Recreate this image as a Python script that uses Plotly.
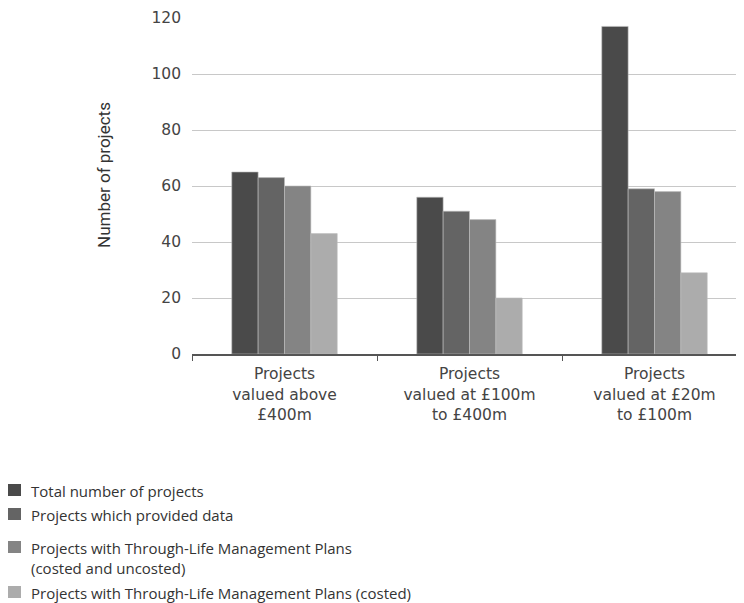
import plotly.graph_objects as go

categories = [
    "Projects<br>valued above<br>£400m",
    "Projects<br>valued at £100m<br>to £400m",
    "Projects<br>valued at £20m<br>to £100m",
]
series_names = [
    "Total number of projects",
    "Projects which provided data",
    "Projects with Through-Life Management Plans<br>(costed and uncosted)",
    "Projects with Through-Life Management Plans (costed)",
]
total_projects = [65, 56, 117]
provided_data = [63, 51, 59]
tlmp_all = [60, 48, 58]
tlmp_costed = [43, 20, 29]
y_ticks = [0, 20, 40, 60, 80, 100, 120]

colors = ["#4a4a4a", "#646464", "#848484", "#acacac"]
series_values = [total_projects, provided_data, tlmp_all, tlmp_costed]

# the page body adds ~8px around the figure, so layout is offset by that
OFF = 8
W, H = 744, 603
L, R, T, B = 192 - OFF, 5, 18 - OFF, 249 + OFF
pw, ph = W - L - R, H - T - B


def px(x):
    return (x - OFF - L) / pw


def py(y):
    return (H - B - (y - OFF)) / ph


fig = go.Figure()
for i, (name, vals) in enumerate(zip(series_names, series_values)):
    fig.add_trace(go.Bar(
        x=categories, y=vals, name=name,
        marker=dict(color=colors[i], line=dict(width=0.6, color="#bdbdbd")),
        showlegend=False,
    ))

# hand-drawn legend below the chart
legend_tops = [484, 508, 541, 586]
for i, name in enumerate(series_names):
    top = legend_tops[i]
    fig.add_shape(type="rect", xref="paper", yref="paper",
                  x0=px(8), x1=px(21), y0=py(top + 12), y1=py(top),
                  fillcolor=colors[i], line=dict(width=0))
    fig.add_annotation(xref="paper", yref="paper", x=px(29), y=py(top - 5),
                       xanchor="left", yanchor="top", align="left",
                       text=name, showarrow=False,
                       font=dict(family="Open Sans", size=15, color="#333"))

# y axis title, placed by hand (sits above the plot centre in the original)
fig.add_annotation(xref="paper", yref="paper", x=px(104), y=py(175),
                   xanchor="center", yanchor="middle", textangle=-90,
                   text="Number of projects", showarrow=False,
                   font=dict(family="Roboto", size=17, color="#333"))

fig.update_layout(
    width=W, height=H,
    margin=dict(l=L, r=R, t=T, b=B),
    plot_bgcolor="white", paper_bgcolor="white",
    barmode="group", bargap=0.43, bargroupgap=0,
    font=dict(family="DejaVu Sans", color="#444"),
    showlegend=False,
)
fig.update_xaxes(
    showline=True, linecolor="#555", linewidth=1.5,
    ticks="outside", tickson="boundaries", ticklen=5, tickcolor="#555",
    tickfont=dict(size=15.5, color="#444"), ticklabelstandoff=5,
    showgrid=False, automargin=False,
)
fig.update_yaxes(
    range=[0, 120], tickvals=y_ticks,
    showgrid=True, gridcolor="#c8c8c8", gridwidth=1,
    zeroline=False, ticklabelstandoff=10, automargin=False,
    tickfont=dict(size=15.5, color="#444"),
)

fig.write_html("out.html")
